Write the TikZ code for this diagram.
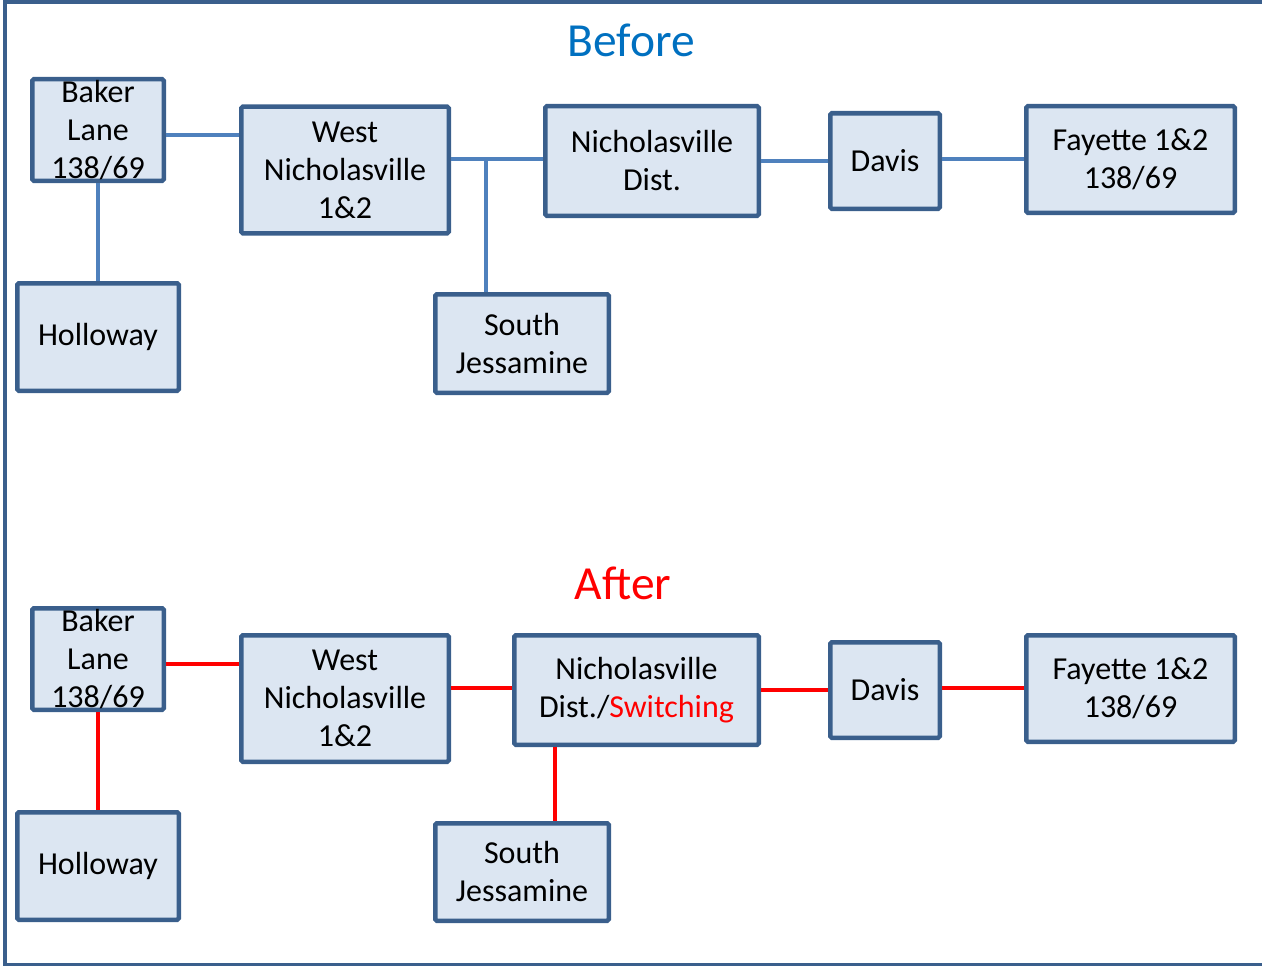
\documentclass[tikz,border=0pt]{standalone}
\usepackage{fontspec}
\setmainfont{Carlito}
\usepackage{tikz}
\usetikzlibrary{positioning}

\definecolor{boxfill}{HTML}{DCE6F2}
\definecolor{boxline}{HTML}{3A5F8C}
\definecolor{wireblue}{HTML}{4F81BD}
\definecolor{titleblue}{HTML}{0070C0}

\tikzset{
  station/.style={rectangle, draw=boxline, fill=boxfill, line width=4.5pt,
    rounded corners=1.5pt, align=center, inner sep=0pt,
    font=\fontsize{32}{38}\selectfont},
  oldwire/.style={draw=wireblue, line width=3.5pt},
  newwire/.style={draw=red, line width=3.5pt},
  heading/.style={font=\fontsize{47.5}{52}\selectfont}
}

\begin{document}
\begin{tikzpicture}[x=1pt,y=-1pt]

	\useasboundingbox (0,0) rectangle (1262,966);
	\draw[boxline, line width=4pt] (1275,2) -- (4.5,2) -- (4.5,964.5) -- (1275,964.5);
	
	% before
	\node[heading, text=titleblue] (before) at (631,40) {Before};
	
	\node[station, minimum width=131.5pt, minimum height=101.5pt] (bakerB) at (98,130) {Baker\\Lane\\138/69};
	\node[station, minimum width=207.5pt, minimum height=126.5pt] (westB) at (345,170) {West\\Nicholasville\\1\&2};
	\node[station, minimum width=213.5pt, minimum height=109.5pt] (nichB) at (652,161) {Nicholasville\\Dist.};
	\node[station, minimum width=109.5pt, minimum height=95.5pt] (davisB) at (885,161) {Davis};
	\node[station, minimum width=208.5pt, minimum height=106.5pt] (fayB) at (1130.5,159.5) {Fayette 1\&2\\138/69};
	\node[station, minimum width=161.5pt, minimum height=107.5pt] (hollB) at (98,337) {Holloway};
	\node[station, minimum width=173.5pt, minimum height=98.5pt] (southB) at (522,343.5) {South\\Jessamine};
	
	\coordinate (jB) at (486,159);
	
	\path[oldwire]
	([yshift=-5pt]bakerB.east) edge ([yshift=35pt]westB.west)
	([yshift=11pt]westB.east) edge ([yshift=2pt]nichB.west)
	(jB) edge (jB |- southB.north)
	(nichB.east) edge (davisB.west)
	([yshift=2pt]davisB.east) edge ([yshift=0.5pt]fayB.west)
	(bakerB.south) edge (hollB.north);
	
	% after
	\node[heading, text=red] (after) at (623,583) {After};
	
	\node[station, minimum width=131.5pt, minimum height=101.5pt] (bakerA) at (98,659) {Baker\\Lane\\138/69};
	\node[station, minimum width=207.5pt, minimum height=126.5pt] (westA) at (345,698.5) {West\\Nicholasville\\1\&2};
	\node[station, minimum width=244.5pt, minimum height=109.5pt] (nichA) at (636.5,690) {Nicholasville\\Dist./\textcolor{red}{Switching}};
	\node[station, minimum width=109.5pt, minimum height=95.5pt] (davisA) at (885,690) {Davis};
	\node[station, minimum width=208.5pt, minimum height=106.5pt] (fayA) at (1130.5,688.5) {Fayette 1\&2\\138/69};
	\node[station, minimum width=161.5pt, minimum height=107.5pt] (hollA) at (98,866) {Holloway};
	\node[station, minimum width=173.5pt, minimum height=97.5pt] (southA) at (522,872) {South\\Jessamine};
	
	\coordinate (jA) at (555,790);
	
	\path[newwire]
	([yshift=-5pt]bakerA.east) edge ([yshift=34.5pt]westA.west)
	([yshift=10.5pt]westA.east) edge ([yshift=2pt]nichA.west)
	(jA |- nichA.south) edge (jA |- southA.north)
	(nichA.east) edge (davisA.west)
	([yshift=2pt]davisA.east) edge ([yshift=0.5pt]fayA.west)
	(bakerA.south) edge (hollA.north);
\end{tikzpicture}
\end{document}
